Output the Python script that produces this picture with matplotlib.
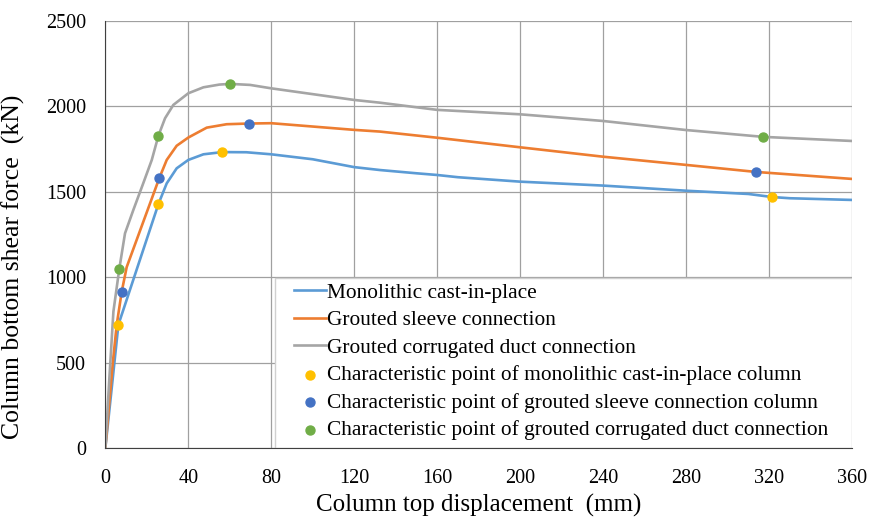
import matplotlib.pyplot as plt
from matplotlib.patches import Rectangle

# curves (displacement mm, shear force kN)
mono_x = [0, 3.5, 6.3, 18, 25.6, 29.6, 34.4, 40, 47.3, 56.4, 68, 80, 100, 120, 132.4, 150, 160, 170, 200, 240, 280, 310, 321.6, 330, 360]
mono_y = [0, 400, 723, 1151, 1429, 1550, 1638, 1687, 1720, 1733, 1732, 1720, 1691, 1645, 1628, 1609, 1599, 1586, 1560, 1537, 1507, 1488, 1470, 1463, 1453]

sleeve_x = [0, 3.6, 5.5, 7.9, 10.3, 26, 29.6, 34.4, 40, 48.9, 58.5, 69, 80, 120, 132.4, 160, 200, 240, 280, 313.6, 360]
sleeve_y = [0, 500, 723, 916, 1060, 1580, 1687, 1770, 1818, 1876, 1896, 1900, 1902, 1863, 1853, 1817, 1761, 1706, 1658, 1617, 1576]

duct_x = [0, 2, 3.9, 6.75, 9.5, 13.5, 18.3, 22.4, 25.6, 28.8, 32.8, 40, 47.3, 55, 60.3, 69.8, 80, 120, 132.4, 160, 200, 240, 280, 317.3, 360]
duct_y = [0, 420, 800, 1051, 1258, 1394, 1551, 1687, 1829, 1931, 2009, 2077, 2112, 2128, 2132, 2126, 2106, 2038, 2022, 1980, 1954, 1915, 1862, 1822, 1798]

# characteristic points
mono_pts_x = [6.3, 25.6, 56.4, 321.6]
mono_pts_y = [723, 1429, 1732, 1470]
sleeve_pts_x = [7.9, 26.0, 69.4, 313.6]
sleeve_pts_y = [916, 1580, 1898, 1617]
duct_pts_x = [6.75, 25.6, 60.3, 317.3]
duct_pts_y = [1051, 1829, 2130, 1822]

plt.rcParams['font.family'] = ['Liberation Serif', 'DejaVu Serif']

fig = plt.figure(figsize=(8.69, 5.17), dpi=100)
ax = fig.add_axes([0.1212, 0.1329, 0.8592, 0.8265])

ax.plot(mono_x, mono_y, color='#5B9BD5', lw=1.9, label='Monolithic cast-in-place', zorder=3)
ax.plot(sleeve_x, sleeve_y, color='#ED7D31', lw=1.9, label='Grouted sleeve connection', zorder=3)
ax.plot(duct_x, duct_y, color='#A5A5A5', lw=1.9, label='Grouted corrugated duct connection', zorder=3)
ax.scatter(mono_pts_x, mono_pts_y, color='#FFC000', s=42, zorder=4,
           label='Characteristic point of monolithic cast-in-place column')
ax.scatter(sleeve_pts_x, sleeve_pts_y, color='#4472C4', s=42, zorder=4,
           label='Characteristic point of grouted sleeve connection column')
ax.scatter(duct_pts_x, duct_pts_y, color='#70AD47', s=42, zorder=4,
           label='Characteristic point of grouted corrugated duct connection')

ax.set_xlim(0, 360)
ax.set_ylim(0, 2500)
ax.set_xticks(range(0, 361, 40))
ax.set_yticks(range(0, 2501, 500))
ax.grid(True, color='#a0a0a0', lw=0.9)
ax.set_axisbelow(True)
for s in ['top', 'right']:
    ax.spines[s].set_visible(False)
for s in ['left', 'bottom']:
    ax.spines[s].set_color('#404040')
    ax.spines[s].set_zorder(6)
ax.tick_params(length=0, labelsize=14.5)
ax.tick_params(axis='y', pad=14)
ax.tick_params(axis='x', pad=15)

ax.set_xlabel('Column top displacement  (mm)', fontsize=18, labelpad=4)
ax.set_ylabel('Column bottom shear force  (kN)', fontsize=18.5)
ax.yaxis.set_label_coords(-0.108, 0.424)

# legend box like the Excel one (white, light border, covering the grid)
ax.add_patch(Rectangle((0.2273, 0.0), 0.7727, 0.3986, transform=ax.transAxes,
                       facecolor='white', edgecolor='#d0d0d0', lw=1.0, zorder=5))
leg = ax.legend(loc='upper left', bbox_to_anchor=(0.2527, 0.387), fontsize=15.4,
                frameon=False, handlelength=1.5, handletextpad=0.05,
                labelspacing=0.35, borderpad=0, borderaxespad=0, scatterpoints=1)
leg.set_zorder(6)

fig.savefig('out.png', dpi=100)
